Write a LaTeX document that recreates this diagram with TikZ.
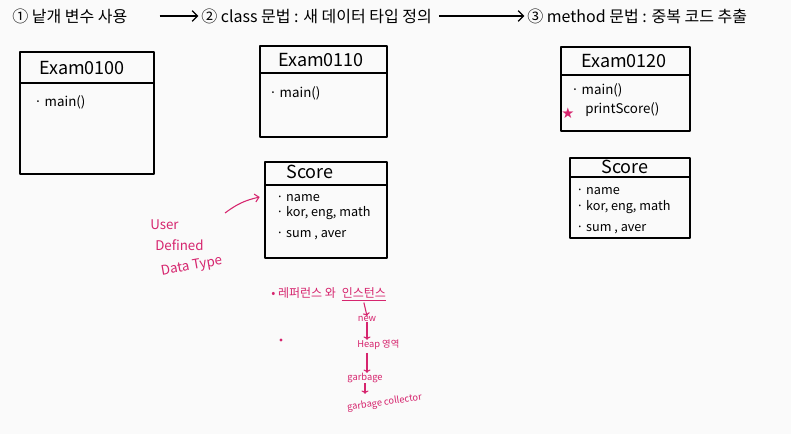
\documentclass[tikz,border=0pt]{standalone}
\usepackage{fontspec}
\setmainfont{Noto Sans CJK KR}
\newfontfamily\symfont{DejaVu Sans}
\usetikzlibrary{positioning,arrows.meta}
\definecolor{paper}{HTML}{FAFAFA}
\definecolor{penpink}{HTML}{D6256E}

\tikzset{
  pen/.style={line width=1.4pt, line cap=round, line join=round},
  heading/.style={anchor=west, inner sep=0pt, font=\fontsize{12}{14}\selectfont},
  classname/.style={inner sep=0pt, font=\fontsize{13.5}{15}\selectfont},
  member/.style={anchor=west, inner sep=0pt, font=\fontsize{10}{12}\selectfont},
  field/.style={anchor=west, inner sep=0pt, font=\fontsize{9.5}{11}\selectfont},
  note/.style={anchor=west, inner sep=0pt, text=penpink, font=\fontsize{9}{10}\selectfont},
  udt/.style={anchor=west, inner sep=0pt, text=penpink, font=\fontsize{10}{11}\selectfont},
  smallnote/.style={inner sep=0pt, text=penpink, font=\fontsize{7}{8}\selectfont},
  pinkarrow/.style={draw=penpink, line width=0.8pt, -{To[length=2.5pt]}},
}

\begin{document}
\begin{tikzpicture}[x=0.75pt,y=-0.75pt]
\fill[paper] (0,0) rectangle (791,434);
\useasboundingbox (0,0) rectangle (791,434);

% steps
\node[heading] (step1) at (12,16) {① 낱개 변수 사용};
\node[heading] (step2) at (201,16) {② class 문법 : 새 데이터 타입 정의};
\node[heading] (step3) at (527,16) {③ method 문법 : 중복 코드 추출};
\draw[line width=0.9pt, -{Straight Barb[length=4pt]}, shorten <=24pt, shorten >=2pt] (step1) -- (step2);
\draw[line width=0.9pt, -{Straight Barb[length=4pt]}, shorten <=5pt, shorten >=2pt] (step2) -- (step3);

% Exam0100
\draw[pen] (20,52) rectangle (154,174);
\draw[pen] (20,83) -- (154,83);
\node[classname] (exam0100) at (82,68) {Exam0100};
\node[member] (main1) at (34,102) {· main()};

% Exam0110
\draw[pen] (260,46) rectangle (387,137);
\draw[pen] (260,73) -- (387,73);
\node[classname] (exam0110) at (321,60) {Exam0110};
\node[member] (main2) at (269,93) {· main()};

% Score
\draw[pen] (265,162) rectangle (387,258);
\draw[pen] (265,185) -- (387,185);
\coordinate (scorebox) at (265,197);
\node[classname] (score1) at (310,172) {Score};
\node[field] (name1) at (276,198) {· name};
\node[field] (kor1) at (276,213) {· kor, eng, math};
\node[field] (sum1) at (276,235) {· sum , aver};

% User Defined Data Type
\node[udt] (udt1) at (150,225) {User};
\node[udt] (udt2) at (155,245) {Defined};
\node[udt, rotate=10] (udt3) at (161,272) {Data Type};
\coordinate (udtfrom) at (225,213);
\draw[pinkarrow, -{Straight Barb[length=3pt]}] (udtfrom) to[bend left=12] ([xshift=-4pt]scorebox);

% Exam0120
\draw[pen] (561,47) rectangle (690,131);
\draw[pen] (561,75) -- (690,75);
\node[classname] (exam0120) at (624,61) {Exam0120};
\node[member] (main3) at (571,90) {· main()};
\node[inner sep=0pt, text=penpink, font=\symfont\fontsize{11}{12}\selectfont] (star) at (568,113) {★};
\node[member] (print) at (585,110) {printScore()};

% Score (method)
\draw[pen] (570,158) rectangle (690,238);
\draw[pen] (570,177) -- (690,177);
\node[classname] (score2) at (625,167) {Score};
\node[field] (name2) at (576,191) {· name};
\node[field] (kor2) at (576,207) {· kor, eng, math};
\node[field] (sum2) at (576,229) {· sum , aver};

% reference / instance
\node[note] (ref) at (271,293) {• 레퍼런스 와};
\node[note, right=4pt of ref] (inst) {인스턴스};
\draw[penpink, line width=0.7pt] (inst.south west) ++(0,-1.5pt) -- ([yshift=-1.5pt]inst.south east);
\node[smallnote] (new) at (367,319) {new};
\node[smallnote, anchor=west] (heap) at (357,345) {Heap 영역};
\node[smallnote] (garbage) at (365,378) {garbage};
\node[smallnote, anchor=west, rotate=8] (gc) at (347,408) {garbage collector};
\node[circle, fill=penpink, inner sep=0pt, minimum size=2.5pt] (dot) at (281,340) {};
\draw[pinkarrow] ([yshift=-3pt]inst.south) -- (new.north);
\draw[pinkarrow] (new.south) -- (new.south |- heap.north);
\draw[pinkarrow] ([yshift=-2pt]new.south |- heap.south) -- (garbage.north -| new.south);
\draw[pinkarrow] (garbage.south) -- ++(0,-8pt);
\end{tikzpicture}
\end{document}
